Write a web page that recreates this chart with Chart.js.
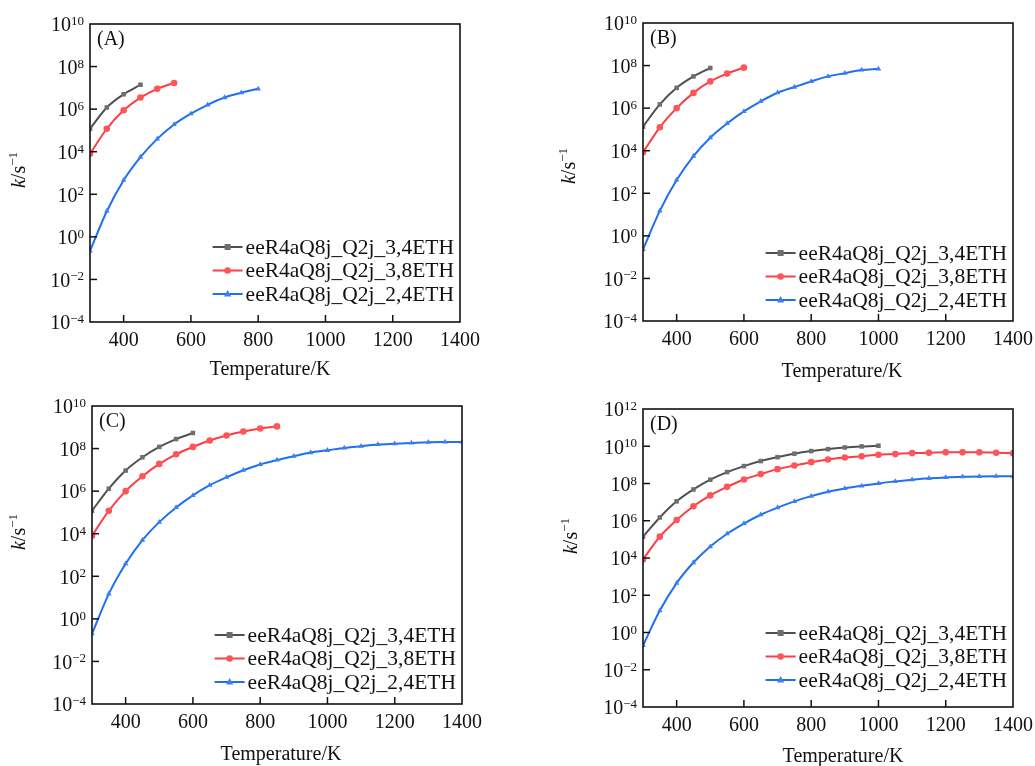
<!DOCTYPE html>
<html>
<head>
<meta charset="utf-8">
<script src="https://cdn.jsdelivr.net/npm/chart.js@4.4.1/dist/chart.umd.min.js"></script>
<style>
    html, body { margin: 0; padding: 0; background: #fff; }
    body { width: 1035px; height: 766px; position: relative; overflow: hidden; }
    canvas { position: absolute; }
</style>
</head>
<body>
<canvas id="cA" width="517" height="383" style="left:0;top:0"></canvas>
<canvas id="cB" width="517" height="383" style="left:518px;top:0"></canvas>
<canvas id="cC" width="517" height="383" style="left:0;top:383px"></canvas>
<canvas id="cD" width="517" height="383" style="left:518px;top:383px"></canvas>
<script>
// Temperatures (K), one point every 50 K from 300 K.
const temps = [300, 350, 400, 450, 500, 550, 600, 650, 700, 750, 800, 850, 900,
    950, 1000, 1050, 1100, 1150, 1200, 1250, 1300, 1350, 1400];

const seriesNames = ['eeR4aQ8j_Q2j_3,4ETH', 'eeR4aQ8j_Q2j_3,8ETH', 'eeR4aQ8j_Q2j_2,4ETH'];
const xTicks = [400, 600, 800, 1000, 1200, 1400];

// Panel A, k / s^-1
const kA34 = [1.2e5, 1.2e6, 5e6, 1.4e7];
const kA38 = [8e3, 1.2e5, 8.8e5, 3.5e6, 9e6, 1.7e7];
const kA24 = [0.22, 16, 460, 5.6e3, 4e4, 1.9e5, 6.1e5, 1.6e6, 3.5e6, 5.9e6, 9e6];

// Panel B
const kB34 = [1.35e5, 1.5e6, 9e6, 3.1e7, 7.7e7];
const kB38 = [8.4e3, 1.26e5, 1e6, 5.2e6, 1.8e7, 4.2e7, 8e7];
const kB24 = [0.23, 15, 420, 5.6e3, 4.1e4, 1.9e5, 7e5, 2.1e6, 5.3e6, 9.8e6, 1.8e7, 3.1e7, 4.4e7, 6.2e7, 7e7];

// Panel C
const kC34 = [1.2e5, 1.3e6, 9.3e6, 3.9e7, 1.2e8, 2.8e8, 5.4e8];
const kC38 = [8e3, 1.2e5, 1e6, 5e6, 1.9e7, 5.4e7, 1.2e8, 2.4e8, 4.1e8, 6.3e8, 8.7e8, 1.1e9];
const kC24 = [0.2, 15, 390, 5e3, 3.5e4, 1.7e5, 6.3e5, 1.9e6, 4.5e6, 9.6e6, 1.8e7, 2.9e7, 4.4e7,
    6.5e7, 8.3e7, 1.07e8, 1.3e8, 1.55e8, 1.7e8, 1.85e8, 2e8, 2.05e8, 2.05e8];

// Panel D
const kD34 = [1.4e5, 1.5e6, 1.1e7, 4.8e7, 1.6e8, 4.1e8, 8.6e8, 1.6e9, 2.6e9, 4e9, 5.5e9, 7e9,
    8.6e9, 9.8e9, 1.07e10];
const kD38 = [8.3e3, 1.4e5, 1.1e6, 6e6, 2.3e7, 6.6e7, 1.65e8, 3.2e8, 5.9e8, 9.3e8, 1.4e9, 1.95e9,
    2.5e9, 2.9e9, 3.5e9, 3.8e9, 4.3e9, 4.45e9, 4.7e9, 4.7e9, 4.7e9, 4.5e9, 4.2e9];
const kD24 = [0.2, 15, 450, 5.7e3, 4.1e4, 2e5, 7.1e5, 2.1e6, 5.1e6, 1.1e7, 2.1e7, 3.6e7, 5.4e7,
    7.5e7, 1e8, 1.3e8, 1.6e8, 1.9e8, 2.1e8, 2.3e8, 2.4e8, 2.45e8, 2.45e8];

// Series styles.
const colors = ['#505050', '#ff3b43', '#1f6fef'];
const pointColors = ['#6e6e6e', '#ff5558', '#3a80f2'];
const markers = ['rect', 'circle', 'triangle'];

const FONT = '"Liberation Serif", "DejaVu Serif", serif';

// Panel layout (canvas-relative).
const panels = [
    { id: 'cA', label: '(A)', yMin: -4, yMax: 10, data: [kA34, kA38, kA24],
      pad: { left: 90, top: 24, right: 57, bottom: 61 },
      yTitle: [20, 170], xTitle: [270, 370], legendBottom: 28 },
    { id: 'cB', label: '(B)', yMin: -4, yMax: 10, data: [kB34, kB38, kB24],
      pad: { left: 125, top: 23, right: 22, bottom: 62 },
      yTitle: [52, 166], xTitle: [324, 372], legendBottom: 21 },
    { id: 'cC', label: '(C)', yMin: -4, yMax: 10, data: [kC34, kC38, kC24],
      pad: { left: 92, top: 23, right: 55, bottom: 62 },
      yTitle: [20, 149], xTitle: [281, 372], legendBottom: 22 },
    { id: 'cD', label: '(D)', yMin: -4, yMax: 12, data: [kD34, kD38, kD24],
      pad: { left: 125, top: 26, right: 22, bottom: 59 },
      yTitle: [54, 153], xTitle: [325, 374], legendBottom: 27 }
];

function supText(n) {
    return n < 0 ? '\u2212' + Math.abs(n) : String(n);
}

function drawMarker(ctx, style, x, y, color) {
    ctx.fillStyle = color;
    ctx.beginPath();
    if (style === 'rect') {
        ctx.rect(x - 3, y - 3, 6, 6);
    } else if (style === 'circle') {
        ctx.arc(x, y, 3.3, 0, Math.PI * 2);
    } else {
        ctx.moveTo(x, y - 4);
        ctx.lineTo(x + 3.6, y + 2.5);
        ctx.lineTo(x - 3.6, y + 2.5);
        ctx.closePath();
    }
    ctx.fill();
}

// Frame, inward ticks, labels, titles and legend.
const decorPlugin = {
    id: 'decor',
    afterDraw(chart, args, opts) {
        const p = opts.panel;
        const { ctx, chartArea: { left, right, top, bottom }, scales: { x, y } } = chart;
        ctx.save();

        // ticks
        ctx.strokeStyle = '#111';
        ctx.lineWidth = 1.5;
        ctx.fillStyle = '#111';
        ctx.font = '20px ' + FONT;
        ctx.textAlign = 'center';
        ctx.textBaseline = 'middle';
        xTicks.forEach(v => {
            const px = x.getPixelForValue(v);
            if (px < right - 1) {
                ctx.beginPath();
                ctx.moveTo(px, bottom);
                ctx.lineTo(px, bottom - 7);
                ctx.stroke();
            }
            ctx.fillText(String(v), px, bottom + 19);
        });

        for (let e = p.yMin; e <= p.yMax; e += 2) {
            const py = y.getPixelForValue(Math.pow(10, e));
            if (py > top + 1 && py < bottom - 1) {
                ctx.beginPath();
                ctx.moveTo(left, py);
                ctx.lineTo(left + 7, py);
                ctx.stroke();
            }
            const ex = supText(e);
            ctx.font = '13px ' + FONT;
            const ew = ctx.measureText(ex).width;
            ctx.textAlign = 'right';
            ctx.textBaseline = 'alphabetic';
            ctx.fillText(ex, left - 6, py + 1);
            ctx.font = '20px ' + FONT;
            ctx.textBaseline = 'middle';
            ctx.fillText('10', left - 6 - ew, py + 2);
        }

        // frame
        ctx.lineWidth = 1.6;
        ctx.strokeStyle = '#111';
        ctx.strokeRect(left, top, right - left, bottom - top);

        // panel label
        ctx.font = '20px ' + FONT;
        ctx.textAlign = 'left';
        ctx.textBaseline = 'middle';
        ctx.fillText(p.label, left + 7, top + 16);

        // x title
        ctx.textAlign = 'center';
        ctx.fillText('Temperature/K', p.xTitle[0], p.xTitle[1]);

        // y title: k/s^-1
        ctx.save();
        ctx.translate(p.yTitle[0], p.yTitle[1]);
        ctx.rotate(-Math.PI / 2);
        ctx.textBaseline = 'middle';
        ctx.textAlign = 'left';
        ctx.font = 'italic 20px ' + FONT;
        const wk = ctx.measureText('k').width;
        ctx.font = '20px ' + FONT;
        const ws = ctx.measureText('/s').width;
        ctx.font = '13px ' + FONT;
        const we = ctx.measureText('\u22121').width;
        let sx = -(wk + ws + we) / 2;
        ctx.font = 'italic 20px ' + FONT;
        ctx.fillText('k', sx, 0);
        sx += wk;
        ctx.font = '20px ' + FONT;
        ctx.fillText('/s', sx, 0);
        sx += ws;
        ctx.font = '13px ' + FONT;
        ctx.fillText('\u22121', sx, -6);
        ctx.restore();

        // legend
        ctx.font = '21.5px ' + FONT;
        ctx.textAlign = 'left';
        ctx.textBaseline = 'middle';
        const rowGap = 23.5;
        chart.data.datasets.forEach((ds, i) => {
            const ry = bottom - p.legendBottom - (2 - i) * rowGap;
            const tw = ctx.measureText(ds.label).width;
            const tx = right - 6 - tw;
            ctx.strokeStyle = ds.borderColor;
            ctx.lineWidth = 2;
            ctx.beginPath();
            ctx.moveTo(tx - 33, ry);
            ctx.lineTo(tx - 3, ry);
            ctx.stroke();
            drawMarker(ctx, markers[i], tx - 18, ry, pointColors[i]);
            ctx.fillStyle = '#111';
            ctx.fillText(ds.label, tx, ry + 1);
        });

        ctx.restore();
    }
};

panels.forEach(p => {
    const datasets = p.data.map((vals, i) => ({
        label: seriesNames[i],
        data: vals.map((v, j) => ({ x: temps[j], y: v })),
        borderColor: colors[i],
        backgroundColor: pointColors[i],
        pointBackgroundColor: pointColors[i],
        pointBorderWidth: 0,
        pointStyle: markers[i],
        pointRadius: i === 1 ? 3.3 : 3.2,
        borderWidth: 2,
        cubicInterpolationMode: 'monotone',
        fill: false
    }));

    new Chart(document.getElementById(p.id), {
        type: 'line',
        data: { datasets: datasets },
        options: {
            responsive: false,
            animation: false,
            devicePixelRatio: 1,
            layout: { padding: p.pad },
            plugins: {
                legend: { display: false },
                tooltip: { enabled: false },
                decor: { panel: p }
            },
            scales: {
                x: { type: 'linear', min: 300, max: 1400, display: false },
                y: { type: 'logarithmic', min: Math.pow(10, p.yMin), max: Math.pow(10, p.yMax), display: false }
            }
        },
        plugins: [decorPlugin]
    });
});
</script>
</body>
</html>
